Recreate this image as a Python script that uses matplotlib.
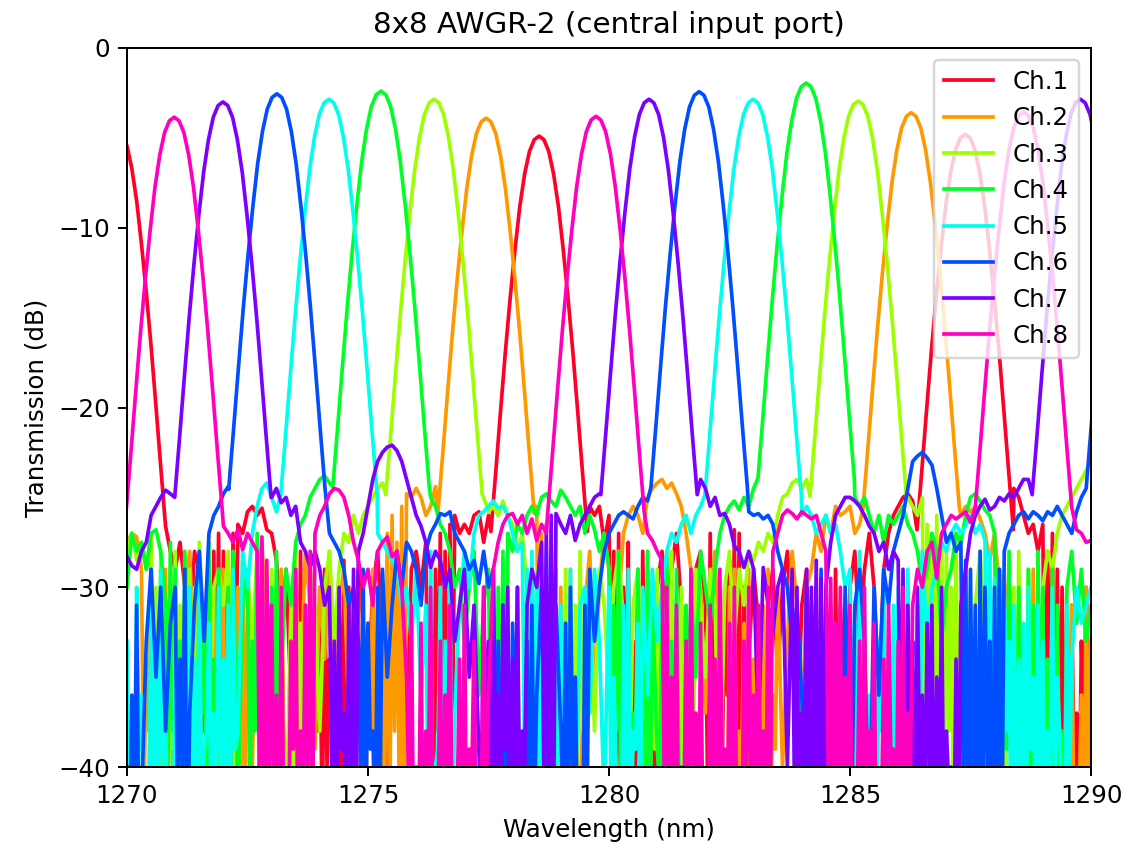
import numpy as np
import matplotlib
matplotlib.use("Agg")
import matplotlib.pyplot as plt

N = np.nan

# ---- data ----
channels = ["Ch.1", "Ch.2", "Ch.3", "Ch.4", "Ch.5", "Ch.6", "Ch.7", "Ch.8"]

# passband peaks: centre wavelength (nm) and peak transmission (dB)
peak_centers = [
    [1269.80, 1278.55, 1287.39],
    [1277.45, 1286.27],
    [1276.37, 1285.17],
    [1275.27, 1284.09],
    [1274.19, 1282.99],
    [1273.11, 1281.87, 1290.90],
    [1271.99, 1280.83, 1289.78],
    [1270.98, 1279.73, 1288.60],
]
peak_heights = [
    [-4.6, -4.9, -4.8],
    [-3.9, -3.6],
    [-2.85, -2.95],
    [-2.4, -1.95],
    [-2.85, -2.85],
    [-2.55, -2.43, -2.5],
    [-3.0, -2.85, -2.85],
    [-3.85, -3.8, -3.55],
]

# passband shape: drop below the peak (dB) at distance from the centre (nm)
profile_offset = [0.0, 0.1, 0.2, 0.3, 0.4, 0.5, 0.6, 0.7, 0.8, 0.9, 1.0]
profile_drop = [0.0, 0.2, 0.85, 2.1, 3.9, 6.3, 9.0, 12.0, 15.3, 18.7, 22.0]

# out-of-band floor (dB), sampled every 0.1 nm from 1270.0 to 1290.0
floor_start, floor_step = 1270.0, 0.1

floor_ch1 = [
    N, N, N, N, N, N, N, N, -27, -28,
    -29, -27.5, -30, -33, -28, -29, -38, -30, -28, -27,
    -28, -30, -27, -26.5, -27, -25.8, -25.5, -26, -25.6, -26.8,
    -27, -28.5, -32, -29, -36, -30, -28, -31, -40, -33,
    -30, -29, -34, -45, -31, -28.5, -30, -37, -29, -32,
    -36, -30, -28, -33, -42, -30, -29, -31, -38, -29,
    -28, -30, -27.5, -35, -29, -27, -28, -26.5, -26, -27,
    -26.5, -27, -26, -25.8, -27.5, -26, N, N, N, N,
    N, N, N, N, N, N, N, N, N, N,
    N, N, N, N, N, N, -25.5, -26, -25.5, -27.5,
    -26, -28, -27, -30, -27.5, -33, -29, -28, -31, -38,
    -30, -28, -32, -29, -27, -31, -40, -33, -29, -28,
    -31, -27, -29, -36, -30, -28.5, -26.8, -27, -30, -34,
    -29, -32, -43, -31, -29, -35, -30, -28, -33, -39,
    -31, -29, -37, -30, -34, -46, -32, -29, -31, -38,
    -30, -28, -33, -29, -27, -30, -36, -29, -27, -26,
    -25.5, -25, -24.8, -25.2, N, N, N, N, N, N,
    N, N, N, N, N, N, N, N, N, N,
    N, N, N, N, -24.5, -25, -26, -27, -26.5, -28,
    -26.5, -28, -27, -29, -30, -33, -31, -37, -33, -30,
    -40,
]
floor_ch2 = [
    -27.5, -27, -27.2, -29, -34, -28, -31, -38, -29, -33,
    -30, -40, -31, -28, -35, -29, -44, -32, -30, -36,
    -29, -33, -38, -30, -28.5, -31, -40, -29, -27.5, -33,
    -31, -37, -29, -45, -32, -30, -36, -28, -31, -39,
    -30, -34, -28, -42, -31, -29, -37, -33, -30, -35,
    -32, -29, -38, -30, -27, -26, -27.5, -25.5, -24.8, -25,
    -24.5, -25, -26, -25.5, -24.4, N, N, N, N, N,
    N, N, N, N, N, N, N, N, N, N,
    N, N, N, N, N, -25.5, -27, -29, -32, -35,
    -30, -38, -29, -33, -44, -31, -28, -36, -30, -27,
    -29, -34, -31, -27, -26, -25.5, -26, -27, -25, -24.5,
    -24.2, -24, -24.5, -24.2, -24.8, -25.5, -27, -29, -33, -30,
    -37, -31, -28, -35, -42, -30, -29, -38, -32, -29,
    -34, -46, -31, -29, -36, -30, -40, -33, -28, -31,
    -38, -30, -29, -27, -28, -26, -27, -25.5, -26, -25.8,
    -25.5, -27, -26.5, N, N, N, N, N, N, N,
    N, N, N, N, N, N, N, N, N, N,
    N, N, N, -26, -25.5, -25.8, -25.5, -26.2, -27, -28.5,
    -27, -30, -33, -29, -38, -31, -45, -33, -29, -36,
    -31, -40, -29, -35, -47, -33, -31, -42, -36, -30,
    -33,
]
floor_ch3 = [
    -28, -27, -28.5, -27.5, -29, -27, -30, -28, -32, -29,
    -28, -31, -36, -29, -30, -27.5, -33, -39, -30, -29,
    -31, -28, -35, -43, -30, -29, -33, -28, -37, -31,
    -29, -34, -30, -40, -31, -28, -32, -36, -29, -31,
    -38, -30, -28, -33, -29, -27, -27.5, -26, -27, -26,
    -25.5, -25, -24.5, -24.2, N, N, N, N, N, N,
    N, N, N, N, N, N, N, N, N, N,
    N, N, N, N, -25, -25.8, -25.5, -26, -25.2, -26,
    -26.5, -28, -27, -30, -33, -29, -36, -31, -28, -30,
    -34, -29, -41, -31, -28, -33, -30, -38, -29, -31,
    -36, -30, -28, -32, -44, -31, -29, -35, -30, -33,
    -29, -38, -31, -28, -34, -30, -40, -32, -29, -31,
    -35, -29, -31, -43, -30, -28, -33, -29, -31, -28,
    -28.5, -27.5, -28, -27, -27.5, -26, -25, -24.8, -24.2, -24,
    -24.5, -24, N, N, N, N, N, N, N, N,
    N, N, N, N, N, N, N, N, N, N,
    N, N, -25, -25.5, -26, -25, -26.5, -27, -26, -27.5,
    -28, -30, -27, -32, -29, -37, -31, -28, -33, -30,
    -36, -29, -31, -44, -30, -28, -34, -29, -31, -39,
    -30, -28, -29, -27, -26, -25.5, -25, -24.5, -24, -23.5,
    -23,
]
floor_ch4 = [
    -30, -27, -28, -27.5, -29, -27, -26.8, -28, -31, -27.5,
    -29, -33, -28, -30, -38, -29, -31, -27.5, -34, -29,
    -36, -30, -28, -42, -31, -29, -33, -27, -30, -38,
    -30, -28, -35, -29, -31, -27.5, -26.5, -26, -25, -24.5,
    -24, -23.8, -24.2, N, N, N, N, N, N, N,
    N, N, N, N, N, N, N, N, N, N,
    N, N, N, -25, -25.5, -26.5, -27, -28, -30, -29,
    -33, -30, -28, -36, -31, -29, -40, -30, -28, -27,
    -28, -26.5, -27, -26, -25.5, -26, -25, -24.8, -25.2, -25.5,
    -24.6, -25, -25.5, -26, -25.5, -27, -26, -26.8, -28, -27,
    -29, -31, -28, -34, -30, -37, -29, -32, -28, -31,
    -39, -30, -28, -33, -29, -45, -31, -30, -35, -28,
    -30, -32, -29, -27, -26, -25.5, -25.2, -25.7, -25, -25.5,
    -24.5, -24, N, N, N, N, N, N, N, N,
    N, N, N, N, N, N, N, N, N, N,
    N, -25, -25.5, -25, -26, -27, -26, -27.5, -26, -26.5,
    -26, -25.5, -26.5, -27, -28, -30, -29, -27, -28, -33,
    -30, -29, -27, -27.5, -26, -25, -24.8, -25.2, -25.7, -26,
    -27, -29, -31, -28, -33, -30, -36, -29, -31, -28,
    -30, -34, -29, -31, -38, -30, -28, -32, -29, -33,
    -31,
]
floor_ch5 = [
    -33, -40, -30, -36, -44, -31, -35, -29, -38, -42,
    -31, -36, -45, -30, -34, -29, -39, -32, -37, -30,
    -34, -31, -29, -38, -28, -30, -27, -25.5, -24.5, -24.2,
    -25, -25.8, N, N, N, N, N, N, N, N,
    N, N, N, N, N, N, N, N, N, N,
    N, N, -27, -27.5, -28, -28.5, -29, -31, -30, -33,
    -29, -36, -31, -28, -40, -30, -33, -29, -37, -31,
    -28, -30, -27, -26, -25.8, -25.5, -25.2, -25.6, -25.5, -26,
    -27, -28, -27.5, -29, -28, -29.5, -30, -28, -32, -29,
    -31, -35, -29, -40, -31, -30, -37, -29, -33, -42,
    -30, -35, -46, -31, -29, -38, -32, -30, -36, -29,
    -33, -30, -28, -27, -27.5, -26.5, -26, -27, -26, -25.5,
    N, N, N, N, N, N, N, N, N, N,
    N, N, N, N, N, N, N, N, N, N,
    -26, -25.5, -26, -27, -26.5, -26, -27, -26.5, -28, -30,
    -29, -32, -28, -31, -36, -30, -33, -29, -38, -31,
    -30, -34, -29, -41, -31, -28, -33, -30, -29, -27.5,
    -28, -27, -26.5, -27, -26.6, -26, -27, -26.5, -27.4, -28,
    -29.5, -31, -30, -33, -31, -34, -32, -30, -35, -31,
    -33, -38, -30, -35, -43, -31, -34, -30, -32, -31,
    -30,
]
floor_ch6 = [
    -40, -36, -31, -42, -33, -29, -35, -30, -38, -32,
    -30, -34, -29, -37, -31, -28, -33, -27, -26, -25.5,
    -24.8, -24.4, N, N, N, N, N, N, N, N,
    N, N, N, N, N, N, N, N, N, N,
    N, N, -27, -27.5, -28, -29, -31, -30, -33, -29,
    -32, -38, -30, -29, -35, -31, -28, -30, -27.5, -28,
    -29, -31, -28, -27, -26.5, -25.9, -26, -25.8, -27, -27.5,
    -28, -29, -28.5, -29.8, -28, -30, -29, -33, -31, -37,
    -32, -30, -40, -33, -31, -36, -30, -45, -34, -31,
    -38, -32, -30, -35, -42, -31, -29, -33, -30, -28,
    -27, -26.5, -26, -25.8, -26, -26.2, -25.5, -25, -25.2, N,
    N, N, N, N, N, N, N, N, N, N,
    N, N, N, N, N, N, N, N, N, -25.8,
    -26, -25.9, -26.2, -26, -26.5, -28, -29, -30, -33, -31,
    -36, -30, -40, -32, -29, -34, -31, -38, -33, -30,
    -35, -31, -29, -33, -44, -30, -36, -29, -31, -28,
    -27, -26, -24.5, -23, -22.7, -22.5, -22.8, -23.2, -24.5, -26,
    -27.5, -27, -28, -27.5, -28.5, -29, -31, -28, -30, -33,
    -30, -29, -28, -27, -26.5, -26, -25.8, -26.2, -25.8, -26,
    -26.3, -25.8, -26, -25.5, -26, -26.5, -27, -25.8, -25, N,
    N,
]
floor_ch7 = [
    -28.3, -28.8, -29, -28, -27.5, -26, -25.5, -25, -24.6, -24.8,
    N, N, N, N, N, N, N, N, N, N,
    N, N, N, N, N, N, N, N, N, N,
    -25, -24.5, -25.3, -25, -26, -25.5, -27.5, -28, -28.9, -28,
    -29, -31, -30, -33, -30, -37, -31, -29, -28, -27,
    -25.5, -24, -23, -22.5, -22.2, -22.1, -22.4, -23, -24, -25,
    -26, -26.6, -27.5, -28.9, -28, -28.5, -30, -29, -33, -31,
    -29, -35, -31, -39, -30, -33, -29, -36, -31, -30,
    -34, -30, -38, -31, -29, -30, -27.5, -26.5, -26, -25.9,
    -26.5, -27, -26, -27.4, -26.5, -26, -25.5, -25, -24.8, N,
    N, N, N, N, N, N, N, N, N, N,
    N, N, N, N, N, N, N, N, N, -24,
    -24.5, -25.5, -25, -26, -25.9, -26.5, -27.7, -28, -28.9, -28,
    -29, -38, -28.9, -31, -32.5, -30, -29, -40, -29, -30,
    -37, -29, -30, -28.5, -29.5, -30, -27.5, -26, -25.5, -25,
    -25, -25.2, -25.5, -26, -26.6, -27, -28, -27.5, -29, -28,
    -28.5, -29, -31, -33, -30, -36, -32, -31, -35, -30,
    -38, -40, -34, -31, -29, -27, -26, -25.5, -25.1, -25.7,
    -25.5, -25, -25.2, -24.8, -25, -24.5, -24, -24, N, N,
    N, N, N, N, N, N, N, N, N, N,
    N,
]
floor_ch8 = [
    N, N, N, N, N, N, N, N, N, N,
    N, N, N, N, N, N, N, N, N, N,
    -26.6, -27, -27.5, -26.8, -27.9, -27, -27.5, -28, -27.2, -28.5,
    -31, -36, -30, -42, -33, -29, -38, -31, -28, -27,
    -26, -25.5, -24.8, -24.5, -24.6, -25, -26, -27.5, -28.5, -30,
    -29, -31, -28, -27.5, -27.2, -28.3, -28, -30, -35, -31,
    -40, -32, -38, -30, -45, -33, -36, -31, -42, -34,
    -31, -39, -33, -44, -30, -36, -29, -27.5, -26.5, -26,
    -25.9, -26.5, -26, -27, -26.2, -27.4, -26.5, -27, N, N,
    N, N, N, N, N, N, N, N, N, N,
    N, N, N, N, N, N, N, N, -27, -27.4,
    -28, -28.5, -30, -35, -31, -40, -33, -29, -37, -32,
    -45, -31, -34, -29, -39, -32, -30, -43, -33, -30,
    -36, -31, -38, -30, -28, -27, -26, -25.7, -25.9, -26.2,
    -25.8, -26, -26.2, -26, -27, -28, -29.5, -32, -30, -35,
    -31, -42, -33, -30, -38, -32, -46, -34, -31, -39,
    -33, -30, -37, -31, -29, -30, -28, -27.5, -29.5, -27,
    -26.5, -26, -26.2, -26, -25.8, -26.4, -26, N, N, N,
    N, N, N, N, N, N, N, N, N, N,
    N, N, N, N, N, N, -26.4, -26.8, -27, -27.5,
    -27.4,
]
floors = [floor_ch1, floor_ch2, floor_ch3, floor_ch4,
          floor_ch5, floor_ch6, floor_ch7, floor_ch8]

# deep noise dips (dB) between floor samples, i.e. at nm + 0.05 + 0.1*k,
# grouped by the 1-nm interval that starts at the key
dips_ch1 = {
    1271: [N, N, N, N, N, N, N, -41, -38, -44],
    1272: [-40, -46, -37, N, N, N, N, N, N, N],
    1273: [N, N, N, N, N, -42, -39, -47, -41, -38],
    1274: [-44, -40, -36, -48, -41, -39, -43, N, N, N],
    1276: [N, N, -40, -45, -38, -42, -47, -39, N, N],
    1280: [-39, -44, -41, -37, -46, -40, -43, -38, -45, -41],
    1282: [-42, -38, -45, -40, -36, -44, -41, -47, -39, N],
    1284: [N, N, N, -40, -45, -38, -43, -41, N, N],
    1289: [-41, -37, -45, -42, -39, -47, -40, -44, -38, N],
}
dips_ch2 = {
    1270: [N, N, N, -42, -38, -46, -40, -44, -39, -41],
    1271: [N, N, N, N, N, -43, -39, -47, -41, -38],
    1272: [-45, -40, -37, -44, -42, N, N, N, N, N],
    1274: [N, N, N, N, N, N, N, N, -41, -46],
    1275: [-39, -43, -48, -40, -44, -38, -42, -45, N, N],
    1278: [N, N, N, N, N, -40, -44, -38, -47, -41],
    1279: [-43, -39, -45, -41, -37, N, N, N, N, N],
    1282: [N, N, N, -41, -46, -39, -43, -40, -48, -42],
    1283: [-38, -45, -41, -44, -39, N, N, N, N, N],
    1288: [N, N, N, N, N, N, -42, -46, -39, -44],
    1289: [-41, -47, -40, -43, -48, -39, -45, -42, -46, -40],
}
dips_ch3 = {
    1270: [N, N, N, N, N, -38, -43, -40, -45, -39],
    1271: [-42, -37, -44, -41, -46, N, N, N, N, N],
    1272: [N, N, N, N, N, N, N, N, -40, -44],
    1273: [-39, -46, -42, -38, -45, -41, -43, -40, N, N],
    1278: [N, N, N, -41, -45, -38, -43, -47, -40, -44],
    1279: [-39, -42, -46, -40, -38, N, N, N, N, N],
    1280: [N, N, N, N, N, N, N, N, -43, -39],
    1281: [-45, -41, -38, -47, -42, -40, -44, -39, N, N],
    1286: [N, N, N, N, N, -40, -44, -39, -46, -42],
    1287: [-38, -45, -41, -43, N, N, N, N, N, N],
    1288: [N, N, -42, -38, -45, -40, -43, -39, -44, N],
}
dips_ch4 = {
    1270: [N, N, N, N, N, N, N, N, -41, -38],
    1271: [-44, -40, -46, -39, -42, -37, -45, -41, -43, -39],
    1272: [-47, -40, N, N, N, -42, -38, -45, -41, -44],
    1273: [-39, -43, N, N, N, N, N, N, N, N],
    1277: [N, N, N, N, N, -40, -44, -39, -42, N],
    1280: [-42, -38, -45, -41, -47, -39, -43, -40, -44, N],
    1281: [-41, -46, -39, -43, -40, -45, -38, N, N, N],
    1288: [-40, -44, -39, -46, -42, -38, -45, -41, -43, -40],
    1289: [-44, -39, -47, -41, -42, N, N, N, N, N],
}
dips_ch5 = {
    1270: [-44, -48, -39, -46, -42, -47, -40, -45, -43, -48],
    1271: [-41, -46, -39, -44, -47, -42, -38, -45, -40, -43],
    1272: [-46, -41, -39, N, N, N, N, N, N, N],
    1276: [N, N, -42, -45, -39, -47, -41, -44, N, N],
    1278: [N, N, -40, -44, -38, -46, -42, -39, -45, -41],
    1279: [-43, -47, -40, -38, N, N, N, N, N, N],
    1280: [-44, -40, -47, -41, -45, -39, -43, N, N, N],
    1285: [-41, -46, -39, -44, -42, -47, -38, -45, -40, -43],
    1286: [-39, -44, -41, -46, -40, N, N, N, N, N],
    1287: [N, N, N, N, N, N, N, N, -42, -39],
    1288: [-45, -41, -38, -46, -43, -40, -47, -39, -44, -41],
    1289: [-46, -40, -43, -38, -45, -42, N, N, N, N],
}
dips_ch6 = {
    1270: [-46, -42, -45, N, N, N, N, N, N, N],
    1271: [-43, -40, -47, N, N, N, N, N, N, N],
    1274: [N, N, N, N, N, N, N, N, -41, -45],
    1275: [-39, -44, -42, N, N, N, N, N, N, N],
    1277: [N, N, N, N, N, N, -42, -46, -40, -44],
    1278: [-39, -47, -41, -45, -43, N, N, N, N, N],
    1279: [-42, -46, -40, -44, -47, -41, N, N, N, N],
    1284: [-41, -45, -39, -47, -43, -40, -46, -42, -38, -44],
    1285: [-40, N, N, N, N, N, N, N, N, N],
    1287: [N, N, N, -41, -46, -42, -48, -44, -40, -47],
    1288: [-43, -45, N, N, N, N, N, N, N, N],
}
dips_ch7 = {
    1274: [N, N, -41, -45, -39, -47, -42, -44, N, N],
    1277: [N, N, N, -43, -40, -46, -41, -45, -39, -47],
    1278: [-42, -44, -40, N, N, N, -41, -45, -43, N],
    1283: [N, N, N, N, N, N, N, N, -42, -46],
    1284: [-40, -44, -41, -47, -43, N, N, N, N, N],
    1286: [-41, -45, -39, -46, -42, -44, -40, -47, -43, -45],
    1287: [-41, -46, -44, N, N, N, N, N, N, N],
}
dips_ch8 = {
    1272: [N, N, N, N, N, N, N, -41, -46, -40],
    1273: [-44, -47, -42, -45, -39, -46, -43, -41, -44, N],
    1275: [N, N, N, N, N, N, N, N, -42, -46],
    1276: [-44, -48, -41, -46, -43, -47, -40, -45, -42, -48],
    1277: [-45, -41, -47, -43, -44, N, N, N, N, N],
    1281: [N, -42, -46, -40, -47, -43, -45, -41, -48, -44],
    1282: [-46, -42, -47, -41, -45, -48, -43, -46, -40, -44],
    1283: [-47, -43, -45, -41, N, N, N, N, N, N],
    1284: [N, N, N, N, N, -41, -45, -43, -47, -40],
    1285: [-46, -42, -48, -44, -41, -47, -43, -45, -40, -46],
    1286: [-42, -45, -41, N, N, N, N, N, N, N],
}
dips = [dips_ch1, dips_ch2, dips_ch3, dips_ch4,
        dips_ch5, dips_ch6, dips_ch7, dips_ch8]

# ---- build each trace from the read values ----
off = np.array(profile_offset)
drop = np.array(profile_drop)
off_full = np.concatenate([-off[:0:-1], off])
drop_full = np.concatenate([drop[:0:-1], drop])


def trace(centers, heights, floor, dip):
    fy = np.array(floor, dtype=float)
    fx = floor_start + floor_step * np.arange(len(fy))
    dx, dy = [], []
    for start, vals in dip.items():
        for k, v in enumerate(vals):
            dx.append(start + floor_step * (k + 0.5))
            dy.append(v)
    fx = np.concatenate([fx, np.array(dx)])
    fy = np.concatenate([fy, np.array(dy, dtype=float)])
    keep = ~np.isnan(fy)
    for c in centers:
        keep &= np.abs(fx - c) > 1.0 + 1e-6
    xs = [fx[keep]]
    ys = [fy[keep]]
    for c, h in zip(centers, heights):
        xs.append(c + off_full)
        ys.append(h - drop_full)
    x = np.concatenate(xs)
    y = np.concatenate(ys)
    order = np.argsort(x, kind="stable")
    return x[order], y[order]


W, H, DPI = 1130, 852, 176.5
fig = plt.figure(figsize=(W / DPI, H / DPI), dpi=DPI)
ax = fig.add_axes([127 / W, 1 - 767 / H, (1091 - 127) / W, (767 - 48) / H])

colors = plt.cm.gist_rainbow(np.linspace(0, 1, len(channels)))
for name, cen, hts, fl, dp, col in zip(channels, peak_centers, peak_heights,
                                       floors, dips, colors):
    x, y = trace(cen, hts, fl, dp)
    ax.plot(x, y, color=col, label=name, lw=1.5)

ax.set_xlim(1270, 1290)
ax.set_ylim(-40, 0)
ax.set_xticks([1270, 1275, 1280, 1285, 1290])
ax.set_yticks([0, -10, -20, -30, -40])
ax.set_xlabel("Wavelength (nm)")
ax.set_ylabel("Transmission (dB)")
ax.set_title("8x8 AWGR-2 (central input port)")
ax.legend(loc="upper right")

fig.savefig("out.png", dpi=DPI)
